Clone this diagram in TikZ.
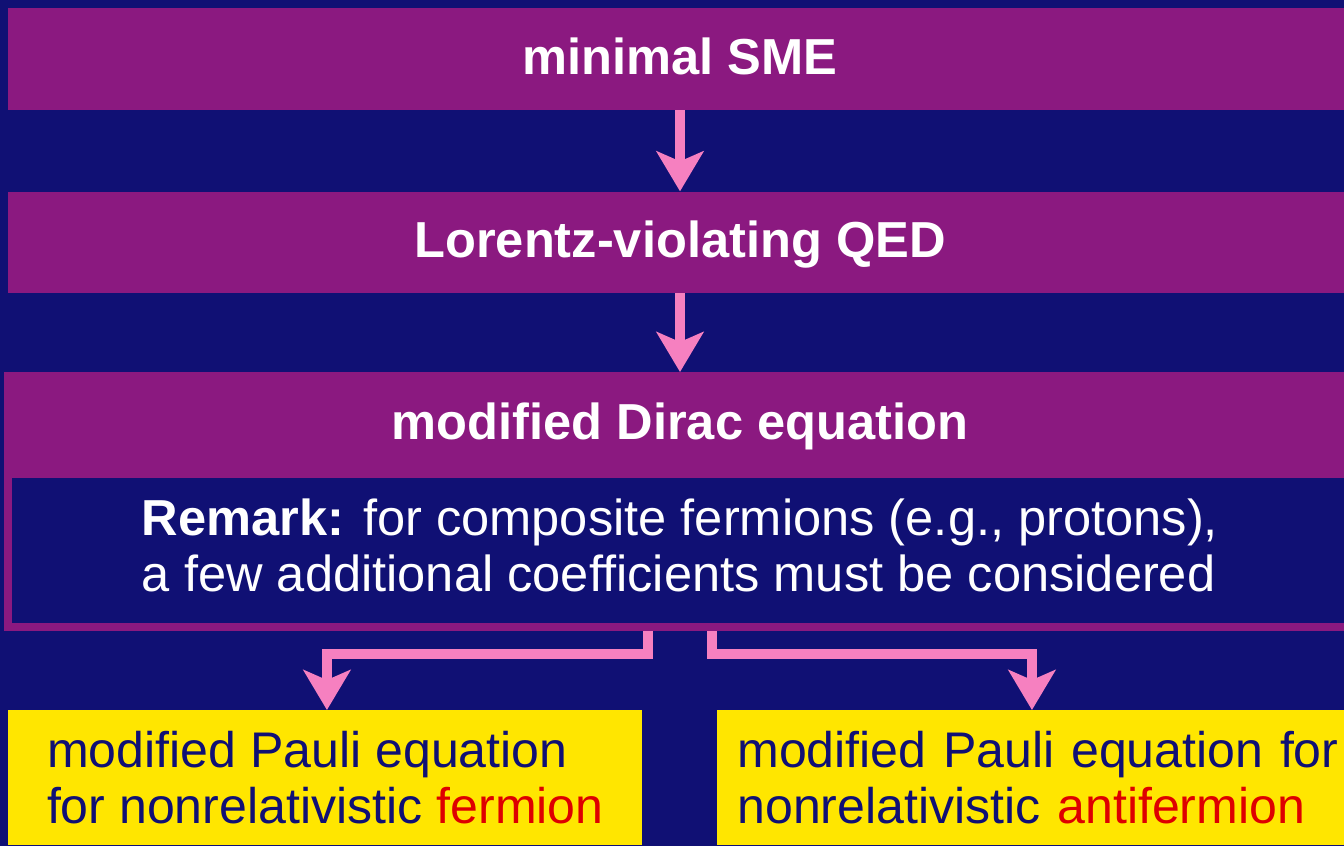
\documentclass[tikz,border=0pt]{standalone}
\usepackage{fontspec}
\setmainfont{Liberation Sans}
\usetikzlibrary{arrows.meta,positioning}
\definecolor{slidenavy}{RGB}{16,16,116}
\definecolor{smepurple}{RGB}{139,25,128}
\definecolor{flowpink}{RGB}{246,128,192}
\definecolor{pauliyellow}{RGB}{255,230,0}
\definecolor{antired}{RGB}{222,0,0}
\newcommand{\slidefont}{\fontsize{28.8pt}{31.9pt}\selectfont}
\newcommand{\paulifont}{\fontsize{28.5pt}{31.9pt}\selectfont}

\begin{document}
\begin{tikzpicture}[x=0.02cm,y=-0.02cm,
  bar/.style={fill=smepurple,text=white,font=\slidefont\bfseries,inner sep=0pt,
    minimum width=26.88cm,minimum height=2.04cm,text height=0.8cm,text depth=0.2cm},
  pauli/.style={fill=pauliyellow,text=slidenavy,font=\paulifont,anchor=north west,
    align=left,inner ysep=0.42cm},
  flow/.style={draw=flowpink,line width=0.2cm,-{Stealth[length=0.8cm,width=0.94cm,inset=0.2cm]}}]
  \useasboundingbox (0,0) rectangle (1344,846);
  \clip (0,0) rectangle (1344,846);
  \fill[slidenavy] (0,0) rectangle (1344,846);

  \node[bar] (sme) at (680,59) {minimal SME};
  \node[bar,minimum height=2.02cm] (lqed) [below=1.62cm of sme] {Lorentz-violating QED};
  \node[bar,minimum width=27.04cm,minimum height=2.1cm] (dirac) [below=1.58cm of lqed] {modified Dirac equation};
  \node[draw=smepurple,line width=0.15cm,fill=slidenavy,text=white,font=\slidefont,align=left,
    minimum width=26.88cm,minimum height=3.065cm] (remark) [below=-0.15cm of dirac]
    {\textbf{Remark:} for composite fermions (e.g., protons),\\a few additional coefficients must be considered\rule[-0.2cm]{0pt}{0pt}};

  \node[pauli,minimum width=12.68cm,inner xsep=0pt] (pauliF) at (8,710)
    {modified Pauli equation\\for nonrelativistic \textcolor{antired}{fermion}};
  \node[pauli,text width=12.8cm,inner xsep=0.4cm] (pauliA) at (717,710)
    {modified Pauli equation for\\nonrelativistic \textcolor{antired}{antifermion}};

  \draw[flow] (sme) -- (lqed);
  \draw[flow] (lqed) -- (dirac);
  \draw[flow] ([xshift=-0.64cm]remark.south) -- ++(0,23) -| ([xshift=6.38cm]pauliF.north west);
  \draw[flow] ([xshift=0.64cm]remark.south) -- ++(0,23) -| ([xshift=6.3cm]pauliA.north west);
\end{tikzpicture}
\end{document}
